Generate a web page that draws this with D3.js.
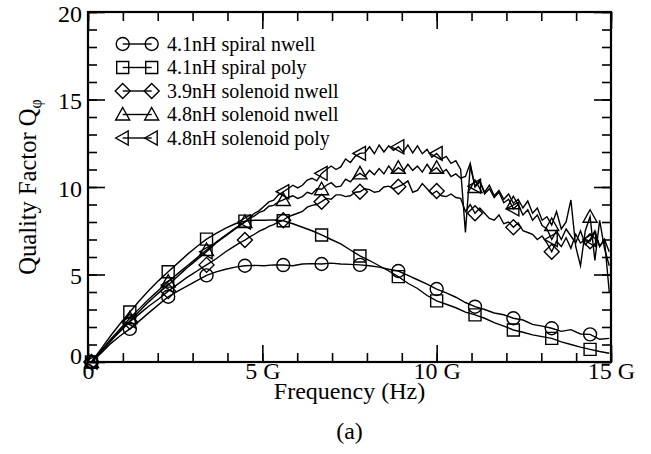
<!DOCTYPE html>
<html><head><meta charset="utf-8">
<script src="https://cdn.jsdelivr.net/npm/d3@7"></script>
<style>
body{margin:0;background:#fff}
svg text{font-family:"Liberation Serif","Times New Roman",Times,serif;fill:#000}
</style>
</head><body>
<svg id="chart" width="651" height="454"></svg>
<script>
// Frequency grids (GHz)
const freqCoarse = [0.1,0.375,0.65,0.925,1.2,1.475,1.75,2.025,2.3,2.575,2.85,3.125,3.4,3.675,3.95,4.225,4.5,4.775,5.05,5.325,5.6,5.875,6.15,6.425,6.7,6.975,7.25,7.525,7.8,8.075,8.35,8.625,8.9,9.175,9.45,9.725,10.0,10.275,10.55,10.825,11.1,11.375,11.65,11.925,12.2,12.475,12.75,13.025,13.3,13.575,13.85,14.125,14.4,14.675,14.95];
const freqFine = [0.1,0.2375,0.375,0.5125,0.65,0.7875,0.925,1.0625,1.2,1.3375,1.475,1.6125,1.75,1.8875,2.025,2.1625,2.3,2.4375,2.575,2.7125,2.85,2.9875,3.125,3.2625,3.4,3.5375,3.675,3.8125,3.95,4.0875,4.225,4.3625,4.5,4.6375,4.775,4.9125,5.05,5.1875,5.325,5.4625,5.6,5.7375,5.875,6.0125,6.15,6.2875,6.425,6.5625,6.7,6.8375,6.975,7.1125,7.25,7.3875,7.525,7.6625,7.8,7.9375,8.075,8.2125,8.35,8.4875,8.625,8.7625,8.9,9.0375,9.175,9.3125,9.45,9.5875,9.725,9.8625,10.0,10.1375,10.275,10.4125,10.55,10.6875,10.825,10.9625,11.1,11.2375,11.375,11.5125,11.65,11.7875,11.925,12.0625,12.2,12.3375,12.475,12.6125,12.75,12.8875,13.025,13.1625,13.3,13.4375,13.575,13.7125,13.85,13.9875,14.125,14.2625,14.4,14.5375,14.675,14.8125,14.95];

// Quality factor values
const spiralNwell = [0,0.5,1.05,1.5,1.89,2.35,2.82,3.28,3.73,4.05,4.35,4.65,4.95,5.15,5.3,5.42,5.5,5.52,5.5,5.55,5.54,5.5,5.6,5.62,5.6,5.65,5.6,5.58,5.55,5.5,5.42,5.3,5.2,4.95,4.7,4.45,4.17,3.95,3.7,3.4,3.16,3.0,2.8,2.7,2.5,2.4,2.15,2.05,1.93,1.75,1.85,1.6,1.58,1.3,1.35];
const spiralPoly = [0,0.75,1.5,2.2,2.86,3.5,4.1,4.65,5.16,5.65,6.15,6.6,7.02,7.35,7.65,7.9,8.05,8.1,8.1,8.12,8.07,7.9,7.7,7.5,7.26,7.0,6.75,6.4,6.06,5.8,5.5,5.2,4.88,4.5,4.2,3.8,3.49,3.3,3.1,2.85,2.69,2.5,2.25,2.05,1.83,1.7,1.55,1.45,1.35,1.15,1.0,0.85,0.72,0.6,0.5];
const solenoid39Nwell = [0,0.3,0.6,0.9,1.2,1.48,1.75,2.03,2.3,2.52,2.75,2.98,3.2,3.4,3.6,3.82,4.05,4.25,4.45,4.65,4.85,5.02,5.2,5.38,5.55,5.72,5.9,6.1,6.3,6.48,6.65,6.82,6.97,7.15,7.3,7.48,7.6,7.75,7.85,8.0,8.1,8.3,8.4,8.5,8.6,8.85,8.95,9.0,9.16,9.35,9.3,9.55,9.55,9.45,9.5,9.7,9.73,9.9,9.85,9.7,9.75,10.0,10.05,9.9,10.02,10.15,10.35,9.7,9.8,10.2,9.9,9.6,9.77,9.5,9.45,9.6,9.4,9.35,8.6,9.0,8.5,8.8,8.5,8.2,8.1,8.4,7.9,8.0,7.7,7.95,7.5,7.4,7.3,7.0,7.2,6.8,6.3,6.9,6.6,7.1,6.5,7.3,6.8,7.0,6.9,7.4,6.6,7.0,6.3];
const solenoid48Nwell = [0,0.32,0.65,0.98,1.3,1.6,1.9,2.2,2.5,2.78,3.05,3.33,3.6,3.85,4.1,4.35,4.59,4.82,5.05,5.28,5.5,5.72,5.95,6.18,6.4,6.62,6.85,7.05,7.25,7.45,7.65,7.82,8.0,8.2,8.35,8.55,8.65,8.9,8.95,9.15,9.26,9.4,9.5,9.35,9.45,9.7,9.6,9.9,9.87,10.1,10.25,10.0,10.05,10.45,10.3,10.6,10.78,10.6,10.95,10.7,11.05,10.75,11.2,10.85,11.1,10.9,11.3,10.95,11.2,10.85,11.3,10.9,11.1,10.8,11.0,10.6,10.75,10.5,10.6,11.35,10.0,10.3,9.7,10.1,9.5,9.8,9.3,9.6,9.07,9.3,8.8,9.2,8.5,8.8,8.1,8.3,7.83,8.6,7.6,8.0,9.26,6.6,5.5,7.5,8.3,5.8,8.1,6.5,5.5];
const solenoid48Poly = [0,0.3,0.6,0.9,1.2,1.5,1.8,2.08,2.35,2.63,2.9,3.18,3.45,3.7,3.95,4.18,4.4,4.65,4.9,5.15,5.4,5.62,5.85,6.08,6.3,6.55,6.8,7.0,7.2,7.4,7.6,7.8,8.0,8.25,8.5,8.65,8.9,9.15,9.25,9.55,9.73,9.9,10.1,9.95,10.1,10.4,10.5,10.35,10.78,11.0,11.2,11.0,11.15,11.6,11.4,11.75,11.92,11.95,12.3,11.9,12.4,12.0,12.35,12.1,12.3,12.0,12.4,11.95,12.35,11.9,12.15,11.7,11.92,11.6,11.75,11.35,11.5,11.0,7.4,11.2,10.05,10.4,9.6,9.9,9.4,9.7,9.1,9.3,8.75,9.0,8.4,8.7,8.1,8.4,7.8,7.6,7.0,7.5,7.0,7.6,7.2,6.8,7.5,6.7,7.0,7.5,6.6,7.0,4.0];

const seriesNames = ["4.1nH spiral nwell","4.1nH spiral poly","3.9nH solenoid nwell","4.8nH solenoid nwell","4.8nH solenoid poly"];
const seriesValues = [spiralNwell, spiralPoly, solenoid39Nwell, solenoid48Nwell, solenoid48Poly];
const seriesFreqs = [freqCoarse, freqCoarse, freqFine, freqFine, freqFine];
const seriesMarkerEvery = [4, 4, 8, 8, 8];
const seriesSymbols = ["circle","square","diamond","triangleUp","triangleLeft"];

const xMajorTicks = [0,5,10,15];
const xTickLabels = ["0","5 G","10 G","15 G"];
const yMajorTicks = [0,5,10,15,20];
const yTickLabels = ["0","5","10","15","20"];

const xTitle = "Frequency (Hz)";
const yTitle = "Quality Factor  Q";
const yTitleSub = "\u03C6";
const caption = "(a)";

// ---------- drawing ----------
const svg = d3.select("#chart");
const P = {l:88, r:611, t:12, b:362};
const x = d3.scaleLinear().domain([0,15]).range([P.l, P.r]);
const y = d3.scaleLinear().domain([0,20]).range([P.b, P.t]);

const xMinor = d3.range(0,16,1);
const yMinor = d3.range(0,21,1);
const MAJ = 17, MIN = 9;

function styleAxis(g){
  g.select(".domain").remove();
  g.selectAll(".tick line").attr("stroke","#000").attr("stroke-width",1.6);
}
// minor ticks (inward, all four sides)
svg.append("g").attr("transform",`translate(0,${P.b})`).call(d3.axisBottom(x).tickValues(xMinor).tickSize(-MIN).tickFormat("")).call(styleAxis);
svg.append("g").attr("transform",`translate(0,${P.t})`).call(d3.axisTop(x).tickValues(xMinor).tickSize(-MIN).tickFormat("")).call(styleAxis);
svg.append("g").attr("transform",`translate(${P.l},0)`).call(d3.axisLeft(y).tickValues(yMinor).tickSize(-MIN).tickFormat("")).call(styleAxis);
svg.append("g").attr("transform",`translate(${P.r},0)`).call(d3.axisRight(y).tickValues(yMinor).tickSize(-MIN).tickFormat("")).call(styleAxis);
// major ticks
const xb = svg.append("g").attr("transform",`translate(0,${P.b})`)
  .call(d3.axisBottom(x).tickValues(xMajorTicks).tickSize(-MAJ).tickPadding(0).tickFormat((d,i)=>xTickLabels[i])).call(styleAxis);
xb.selectAll(".tick text").attr("font-size",24).attr("y",0).attr("dy","0.72em").attr("font-family",null);
svg.append("g").attr("transform",`translate(0,${P.t})`).call(d3.axisTop(x).tickValues(xMajorTicks).tickSize(-MAJ).tickFormat("")).call(styleAxis);
const yl = svg.append("g").attr("transform",`translate(${P.l},0)`)
  .call(d3.axisLeft(y).tickValues(yMajorTicks).tickSize(-MAJ).tickPadding(6).tickFormat((d,i)=>yTickLabels[i])).call(styleAxis);
yl.selectAll(".tick text").attr("font-size",24).attr("font-family",null).attr("dy",d=> d===0 ? "0.05em" : "0.38em");
svg.append("g").attr("transform",`translate(${P.r},0)`).call(d3.axisRight(y).tickValues(yMajorTicks).tickSize(-MAJ).tickFormat("")).call(styleAxis);

// frame
svg.append("rect").attr("x",P.l).attr("y",P.t).attr("width",P.r-P.l).attr("height",P.b-P.t)
  .attr("fill","none").attr("stroke","#000").attr("stroke-width",2.2);

// symbols
function symbolPath(type){
  switch(type){
    case "circle": return "M6.5,0A6.5,6.5 0 1,1 -6.5,0A6.5,6.5 0 1,1 6.5,0Z";
    case "square": return "M-6,-6H6V6H-6Z";
    case "diamond": return "M0,-7.5L7.5,0L0,7.5L-7.5,0Z";
    case "triangleUp": return "M0,-7L7,5.5H-7Z";
    case "triangleLeft": return "M-7,0L5.5,-7V7Z";
  }
}

seriesValues.forEach((vals,s)=>{
  const fr = seriesFreqs[s];
  const line = d3.line().x((d,i)=>x(fr[i])).y(d=>y(d));
  svg.append("path").datum(vals).attr("d",line)
    .attr("fill","none").attr("stroke","#000").attr("stroke-width",1.4).attr("stroke-linejoin","miter").attr("stroke-miterlimit",6);
  const pts = vals.map((v,i)=>({f:fr[i],v,i})).filter(d=>d.i%seriesMarkerEvery[s]===0);
  svg.append("g").selectAll("path").data(pts).join("path")
    .attr("transform",d=>`translate(${x(d.f)},${y(d.v)})`)
    .attr("d",symbolPath(seriesSymbols[s]))
    .attr("fill","none").attr("stroke","#000").attr("stroke-width",1.4);
});

// legend
const lg = svg.append("g");
const legX0 = 122.7, legX1 = 151.7, legY0 = 44, legDy = 23.5;
seriesNames.forEach((name,s)=>{
  const yy = legY0 + s*legDy;
  lg.append("line").attr("x1",legX0).attr("x2",legX1).attr("y1",yy).attr("y2",yy).attr("stroke","#000").attr("stroke-width",1.4);
  [legX0,legX1].forEach(xx=>{
    lg.append("path").attr("transform",`translate(${xx},${yy})`).attr("d",symbolPath(seriesSymbols[s]))
      .attr("fill","none").attr("stroke","#000").attr("stroke-width",1.4);
  });
  lg.append("text").attr("x",167).attr("y",yy).attr("dy","0.33em").attr("font-size",20).text(name);
});

// titles
svg.append("text").attr("x",(P.l+P.r)/2).attr("y",399).attr("text-anchor","middle").attr("font-size",24).text(xTitle);
svg.append("text").attr("x",(P.l+P.r)/2).attr("y",439).attr("text-anchor","middle").attr("font-size",24).text(caption);
const yt = svg.append("text").attr("transform",`translate(36,${(P.t+P.b)/2}) rotate(-90)`).attr("text-anchor","middle").attr("font-size",24.5);
yt.append("tspan").text(yTitle);
yt.append("tspan").attr("font-size",16).attr("dy",5).text(yTitleSub);
</script>
</body></html>
